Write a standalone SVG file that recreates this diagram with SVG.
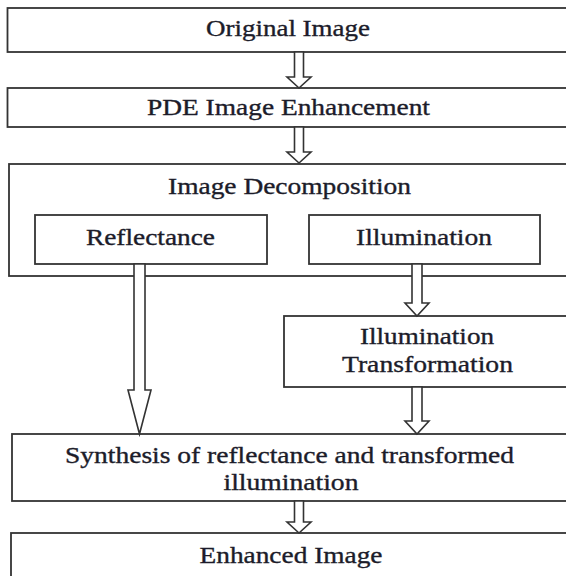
<svg xmlns="http://www.w3.org/2000/svg" width="566" height="576" viewBox="0 0 566 576">
<style>
.box{fill:#ffffff;stroke:#333333;stroke-width:1.8}
.arr{fill:#ffffff;stroke:#333333;stroke-width:1.6;stroke-linejoin:miter}
.t{font-family:"Liberation Serif","Times New Roman",serif;font-size:23px;fill:#1c1c2a;stroke:#1c1c2a;stroke-width:0.35;text-anchor:middle}
</style>
<rect x="0" y="0" width="566" height="576" fill="#ffffff"/>
<g id="n-original">
<rect class="box" x="7.5" y="8" width="570" height="44"/>
<text class="t" x="288" y="36" textLength="164" lengthAdjust="spacingAndGlyphs">Original Image</text>
</g>
<g id="n-pde">
<rect class="box" x="7.5" y="88" width="570" height="39"/>
<text class="t" x="288.5" y="115" textLength="283" lengthAdjust="spacingAndGlyphs">PDE Image Enhancement</text>
</g>
<g id="n-decomp">
<rect class="box" x="9" y="164" width="570" height="112"/>
<text class="t" x="289.5" y="194" textLength="243" lengthAdjust="spacingAndGlyphs">Image Decomposition</text>
</g>
<g id="n-reflectance">
<rect class="box" x="35" y="215" width="232" height="49"/>
<text class="t" x="150.5" y="245" textLength="129" lengthAdjust="spacingAndGlyphs">Reflectance</text>
</g>
<g id="n-illumination">
<rect class="box" x="309" y="215" width="231" height="49"/>
<text class="t" x="424" y="245" textLength="136" lengthAdjust="spacingAndGlyphs">Illumination</text>
</g>
<g id="n-transform">
<rect class="box" x="284" y="316" width="300" height="71"/>
<text class="t" x="427" y="344" textLength="134" lengthAdjust="spacingAndGlyphs">Illumination</text>
<text class="t" x="427.5" y="372" textLength="171" lengthAdjust="spacingAndGlyphs">Transformation</text>
</g>
<g id="n-synthesis">
<rect class="box" x="12" y="434" width="570" height="67"/>
<text class="t" x="289.5" y="463" textLength="449" lengthAdjust="spacingAndGlyphs">Synthesis of reflectance and transformed</text>
<text class="t" x="291" y="490" textLength="135" lengthAdjust="spacingAndGlyphs">illumination</text>
</g>
<g id="n-enhanced">
<rect class="box" x="11" y="533" width="570" height="60"/>
<text class="t" x="291" y="563" textLength="183" lengthAdjust="spacingAndGlyphs">Enhanced Image</text>
</g>
<g id="connectors">
<polygon class="arr" points="294.5,52 303.5,52 303.5,77 311,77 299,88 287,77 294.5,77"/>
<polygon class="arr" points="294.5,127 303.5,127 303.5,152 311,152 299,163 287,152 294.5,152"/>
<polygon class="arr" points="134,264 145,264 145,390 151,390 139.5,434 128,390 134,390"/>
<polygon class="arr" points="412,264 422,264 422,303 429,303 417,316 405,303 412,303"/>
<polygon class="arr" points="412,387 422,387 422,421 429,421 417,434 405,421 412,421"/>
<polygon class="arr" points="294.5,501 303.5,501 303.5,522 311,522 299,533 287,522 294.5,522"/>
</g>
</svg>
